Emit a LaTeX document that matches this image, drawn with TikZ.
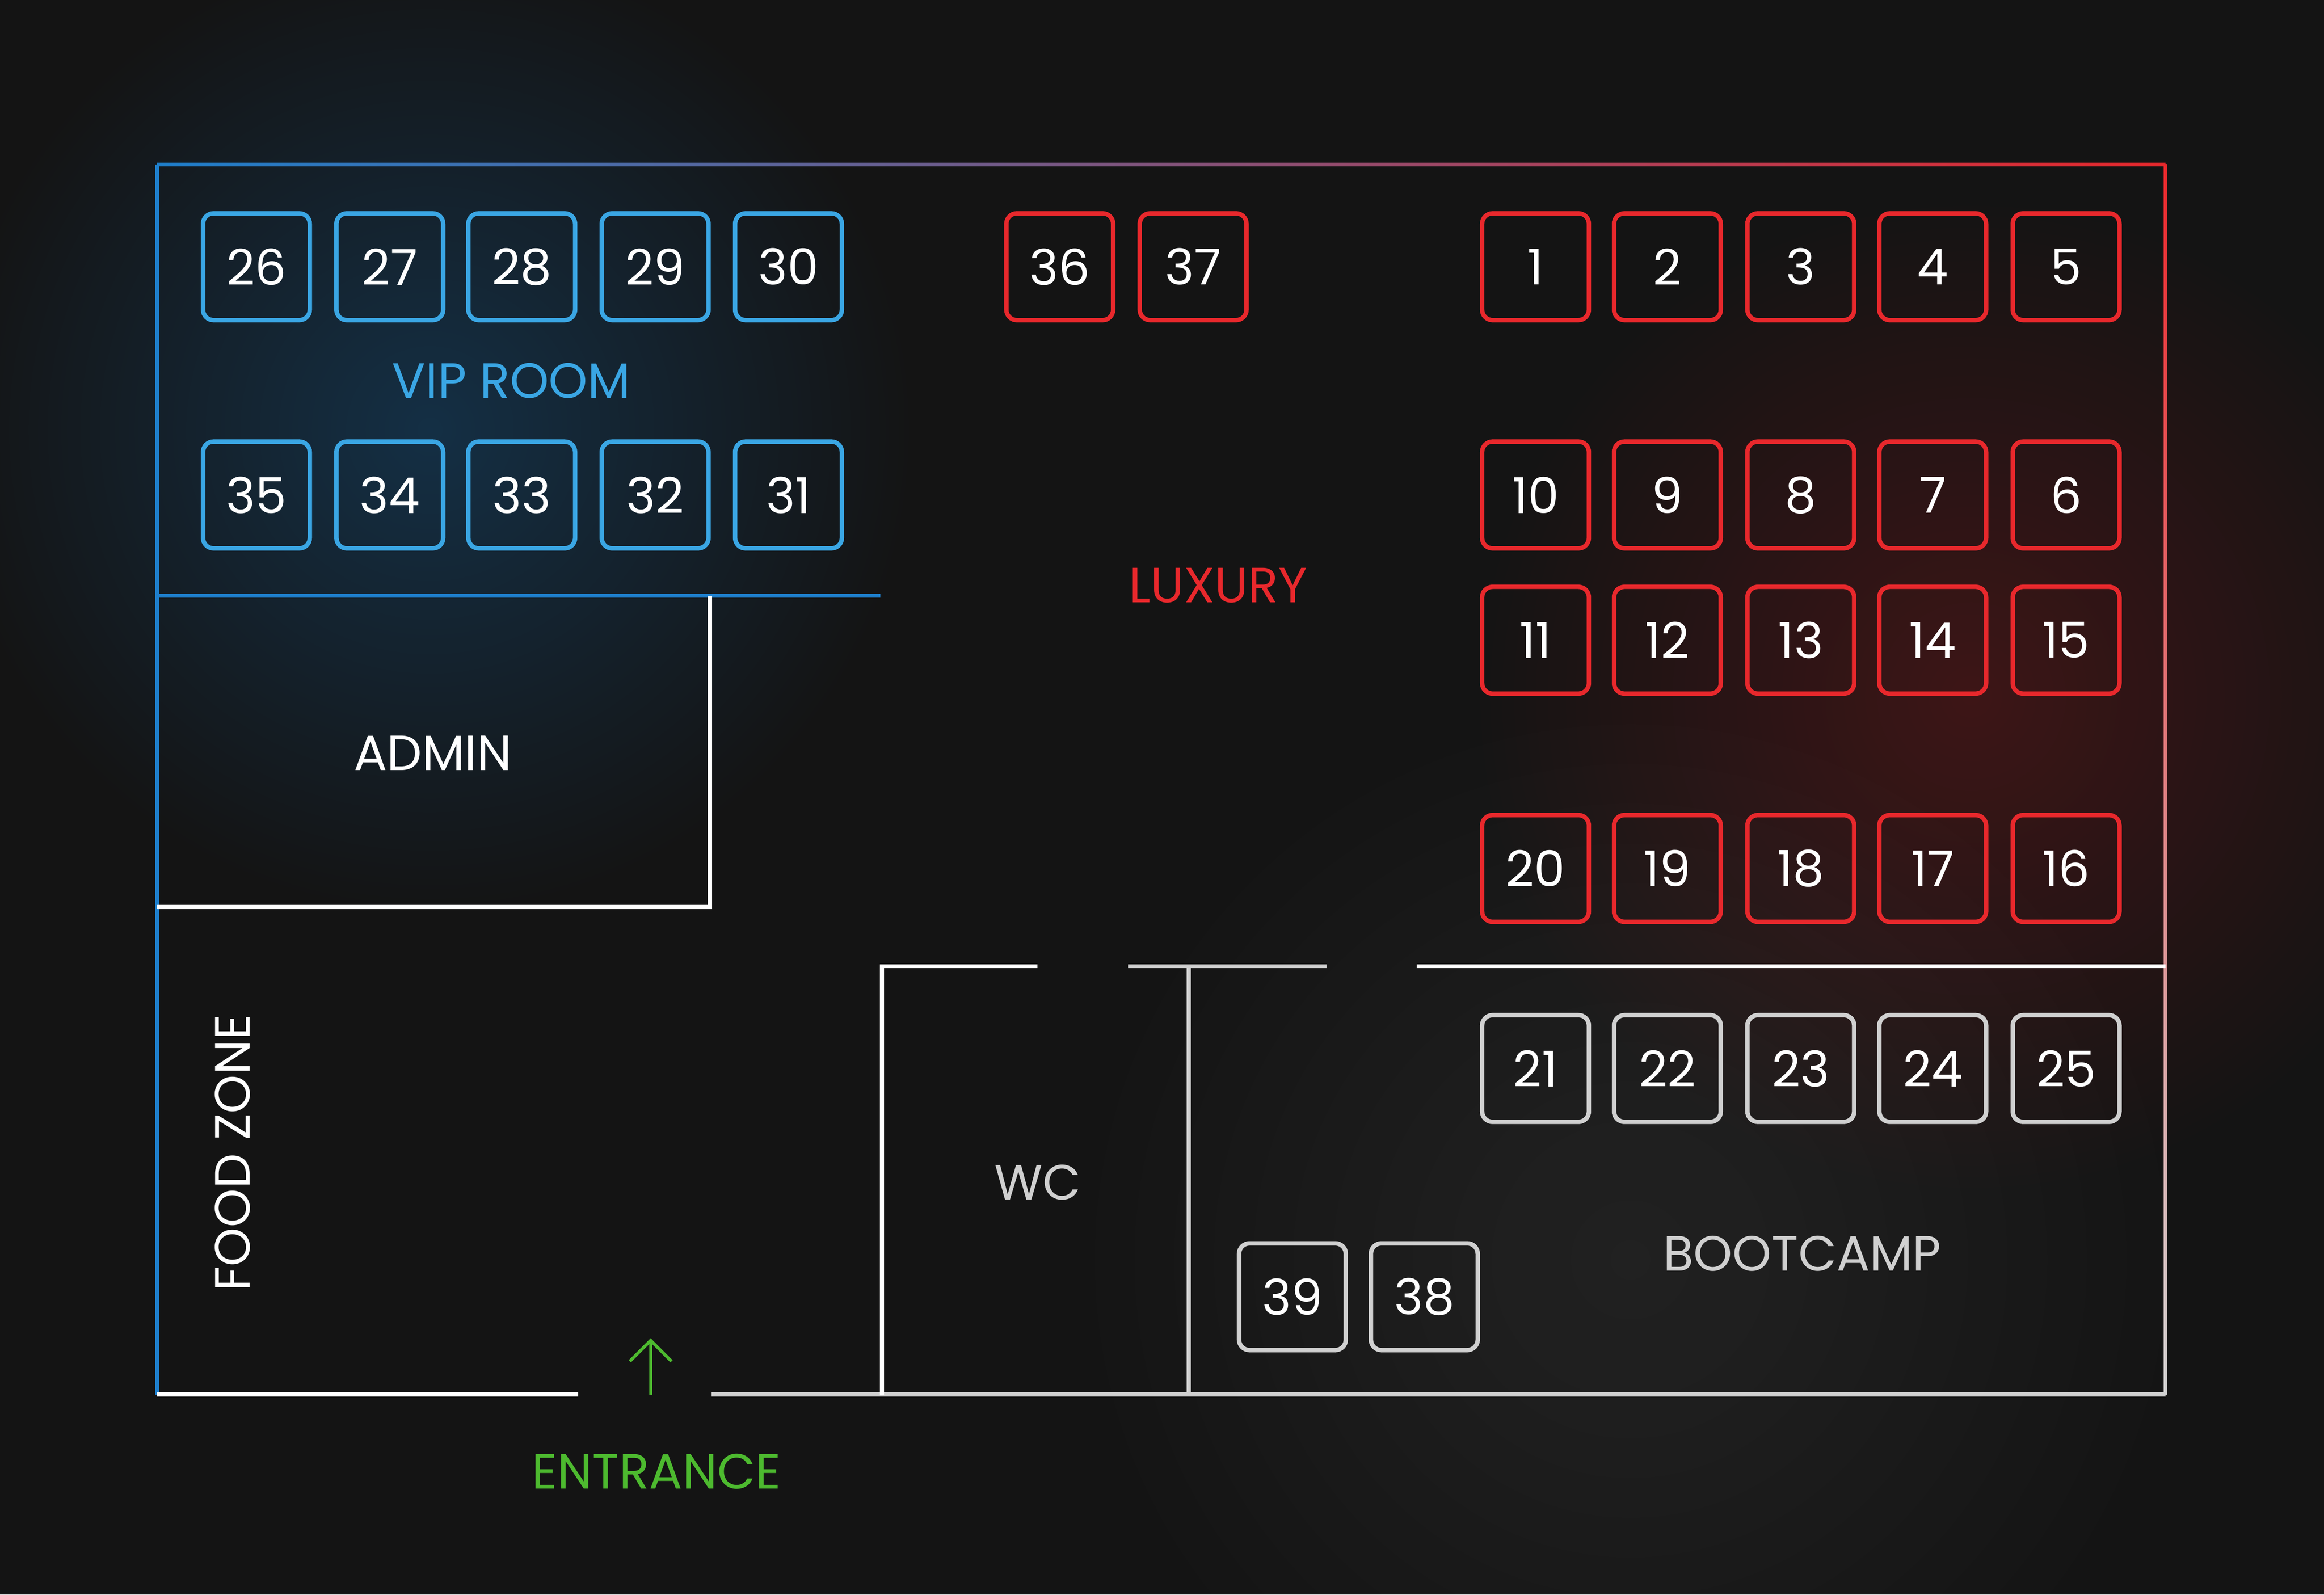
\documentclass[tikz,border=0pt]{standalone}
\usepackage{fontspec}
\setmainfont{Poppins}
\usetikzlibrary{fadings,arrows.meta}
\tikzfading[name=glow, inner color=transparent!0, outer color=transparent!100]
\definecolor{bg}{HTML}{141414}
\definecolor{cb}{HTML}{3AA6E4}
\definecolor{cbw}{HTML}{1E7FCC}
\definecolor{cr}{HTML}{E8282C}
\definecolor{cg}{HTML}{D0D0D0}
\definecolor{cgr}{HTML}{4DBA2F}
\begin{document}
\begin{tikzpicture}[x=0.01cm,y=-0.01cm,
 box/.style={draw,line width=0.85pt,rounded corners=2pt,minimum size=0.72cm,inner sep=0pt,font=\fontsize{9.5}{10}\selectfont,text=white},
 bb/.style={box,draw=cb},rb/.style={box,draw=cr},gb/.style={box,draw=cg},
 lab/.style={font=\fontsize{9.5}{10}\selectfont},
 wall/.style={line width=0.75pt}]
\useasboundingbox (0,0) rectangle (1568,1076);
\fill[bg] (0,0) rectangle (1568,1076);
\fill[cbw!70!black,opacity=0.4,path fading=glow] (290,290) circle (330);
\fill[cr!60!black,opacity=0.35,path fading=glow] (1330,470) circle (340);
\fill[white,opacity=0.06,path fading=glow] (1100,850) circle (400);
% walls
\shade[left color=cbw,right color=cr] (106,110) rectangle (1461,112);
\draw[wall,cbw] (106,111) -- (106,941);
\shade[top color=cr,bottom color=cg] (1460,111) rectangle (1462,941);
\draw[wall,white] (106,941) -- (390,941);
\draw[wall,cg] (480,941) -- (1461,941);
\draw[wall,cbw] (106,402) -- (594,402);
\draw[wall,white] (479,402) -- (479,612) -- (106,612);
\draw[wall,white] (595,941) -- (595,652) -- (700,652);
\draw[wall,cg] (761,652) -- (895,652);
\draw[wall,cg] (802,652) -- (802,941);
\draw[wall,white] (956,652) -- (1461,652);
% boxes
\foreach \n/\x in {26/173,27/263,28/352,29/442,30/532} \node[bb] (b\n) at (\x,180) {\n};
\foreach \n/\x in {35/173,34/263,33/352,32/442,31/532} \node[bb] (b\n) at (\x,334) {\n};
\foreach \n/\x in {36/715,37/805} \node[rb] (b\n) at (\x,180) {\n};
\foreach \n/\x in {1/1036,2/1125,3/1215,4/1304,5/1394} \node[rb] (b\n) at (\x,180) {\n};
\foreach \n/\x in {10/1036,9/1125,8/1215,7/1304,6/1394} \node[rb] (b\n) at (\x,334) {\n};
\foreach \n/\x in {11/1036,12/1125,13/1215,14/1304,15/1394} \node[rb] (b\n) at (\x,432) {\n};
\foreach \n/\x in {20/1036,19/1125,18/1215,17/1304,16/1394} \node[rb] (b\n) at (\x,586) {\n};
\foreach \n/\x in {21/1036,22/1125,23/1215,24/1304,25/1394} \node[gb] (b\n) at (\x,721) {\n};
\foreach \n/\x in {39/872,38/961} \node[gb] (b\n) at (\x,875) {\n};
% labels
\node[lab,text=cb] (vip) at (345,257) {VIP ROOM};
\node[lab,text=cr] (lux) at (822,395) {LUXURY};
\node[lab,text=white] (adm) at (292,508) {ADMIN};
\node[lab,text=white,rotate=90] (food) at (157,778) {FOOD ZONE};
\node[lab,text=cg] (wc) at (700,798) {WC};
\node[lab,text=cg] (boot) at (1216,846) {BOOTCAMP};
\node[lab,text=cgr] (ent) at (443,993) {ENTRANCE};
\coordinate (a1) at (439,941); \coordinate (a2) at (439,903);
\draw[cgr,line width=0.6pt,->,>={Straight Barb[length=4pt,width=8pt]}] (a1) -- (a2);
\end{tikzpicture}
\end{document}
